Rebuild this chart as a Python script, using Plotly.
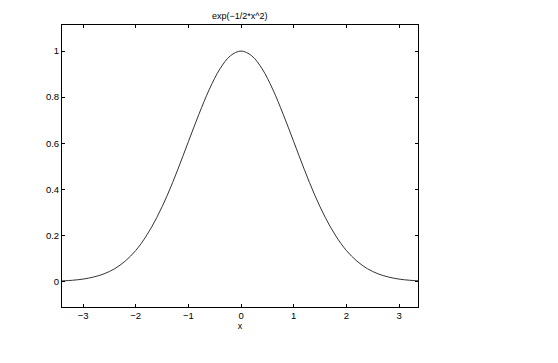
import plotly.graph_objects as go

x_vals = [-3.4, -3.2, -3.0, -2.8, -2.6, -2.4, -2.2, -2.0, -1.8, -1.6, -1.4, -1.2, -1.0, -0.8, -0.6, -0.4, -0.2,
          0.0, 0.2, 0.4, 0.6, 0.8, 1.0, 1.2, 1.4, 1.6, 1.8, 2.0, 2.2, 2.4, 2.6, 2.8, 3.0, 3.2, 3.4]
y_vals = [0.003, 0.006, 0.011, 0.020, 0.034, 0.056, 0.089, 0.135, 0.198, 0.278, 0.375, 0.487, 0.607, 0.726, 0.835, 0.923, 0.980,
          1.000, 0.980, 0.923, 0.835, 0.726, 0.607, 0.487, 0.375, 0.278, 0.198, 0.135, 0.089, 0.056, 0.034, 0.020, 0.011, 0.006, 0.003]
x_ticks = [-3, -2, -1, 0, 1, 2, 3]
y_ticks = [0, 0.2, 0.4, 0.6, 0.8, 1]
title_text = "exp(−1/2*x^2)"
x_label = "x"

fig = go.Figure()
fig.add_trace(go.Scatter(x=x_vals, y=y_vals, mode="lines",
                         line=dict(color="#333333", width=1, shape="spline"),
                         hoverinfo="skip", showlegend=False))

font = dict(family="Liberation Sans, Arial, sans-serif", size=9.5, color="black")
axis_common = dict(showgrid=False, zeroline=False, showline=True, linecolor="black", linewidth=1,
                   mirror="ticks", ticks="inside", ticklen=3, tickcolor="black", tickwidth=1,
                   tickfont=font)
fig.update_layout(
    width=558, height=363,
    margin=dict(l=62, r=140, t=25, b=56),
    paper_bgcolor="white", plot_bgcolor="white",
    xaxis=dict(range=[-3.4, 3.36], tickvals=x_ticks, ticktext=["−3", "−2", "−1", "0", "1", "2", "3"],
               title=dict(text=x_label, font=dict(family="Liberation Sans, Arial, sans-serif", size=9, color="black"),
                          standoff=2), **axis_common),
    yaxis=dict(range=[-0.11, 1.113], tickvals=y_ticks, ticktext=["0", "0.2", "0.4", "0.6", "0.8", "1"],
               **axis_common),
    annotations=[dict(text=title_text, xref="paper", yref="paper", x=0.5, y=1.0, yshift=2,
                      xanchor="center", yanchor="bottom", showarrow=False,
                      font=dict(family="Liberation Sans, Arial, sans-serif", size=9, color="black"))],
)
fig.write_html("out.html")
